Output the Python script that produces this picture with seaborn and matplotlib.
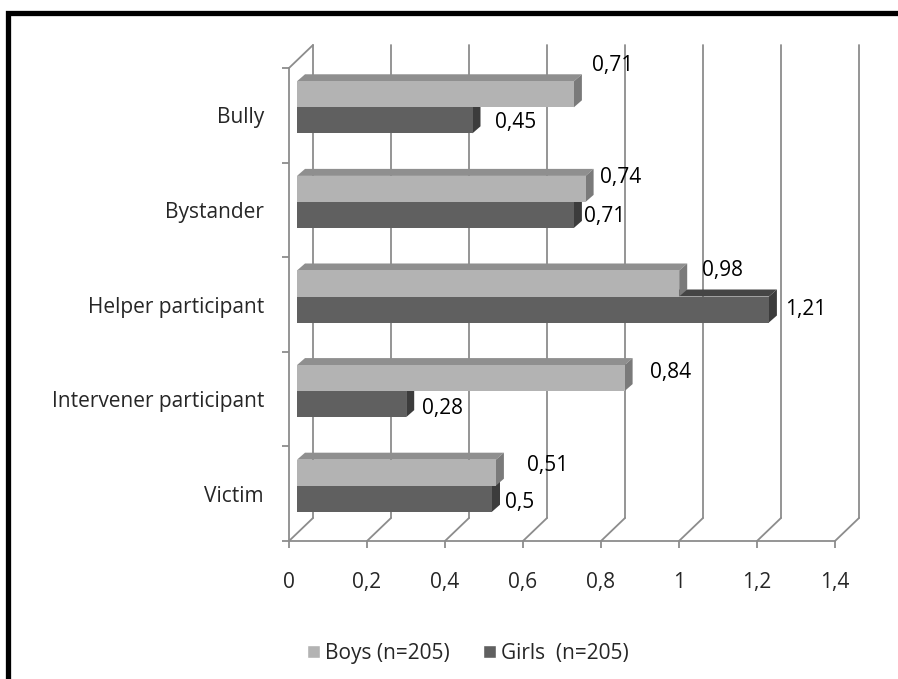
import matplotlib
matplotlib.use("Agg")
import matplotlib.pyplot as plt
from matplotlib.patches import Polygon, Rectangle
import numpy as np
import pandas as pd
import seaborn as sns

# Mean scores by participant role and sex
roles = ["Bully", "Bystander", "Helper participant", "Intervener participant", "Victim"]
boys = [0.71, 0.74, 0.98, 0.84, 0.51]
girls = [0.45, 0.71, 1.21, 0.28, 0.5]
series = ["Boys (n=205)", "Girls  (n=205)"]
x_ticks = [0, 0.2, 0.4, 0.6, 0.8, 1.0, 1.2, 1.4]

sns.set_theme(style="white")
plt.rcParams["font.family"] = ["Open Sans", "DejaVu Sans"]

BOYS_FRONT, BOYS_TOP, BOYS_SIDE = "#b3b3b3", "#8f8f8f", "#7a7a7a"
GIRLS_FRONT, GIRLS_TOP, GIRLS_SIDE = "#606060", "#454545", "#3c3c3c"
GRID = "#8c8c8c"
FS = 15

W, H = 898, 679
fig = plt.figure(figsize=(W / 100, H / 100), dpi=100)
ax_l, ax_b, ax_w, ax_h = 289, 138, 546, 473
ax = fig.add_axes([ax_l / W, ax_b / H, ax_w / W, ax_h / H])

df = pd.DataFrame({
    "role": roles * 2,
    "group": [series[0]] * len(roles) + [series[1]] * len(roles),
    "mean": boys + girls,
})
sns.barplot(data=df, y="role", x="mean", hue="group", orient="h",
            palette=[BOYS_FRONT, GIRLS_FRONT], saturation=1, width=0.55,
            errorbar=None, legend=False, ax=ax, linewidth=0)

ax.set_xlim(0, 1.4)
ax.set_ylim(len(roles) - 0.5, -0.5)

# pixel -> data conversion factors
px_x = 1.4 / ax_w
px_y = len(roles) / ax_h

# depth of the back wall and of the bars (pixels right / up)
WALL_DX, WALL_DY = 24 * px_x, 23 * px_y
BAR_SHIFT_X, BAR_SHIFT_Y = 8 * px_x, 8 * px_y
BAR_DX, BAR_DY = 8 * px_x, 7 * px_y

# back wall gridlines and floor diagonals
y_top, y_bot = -0.5, len(roles) - 0.5
for t in x_ticks:
    ax.plot([t + WALL_DX, t + WALL_DX], [y_bot - WALL_DY, y_top - WALL_DY],
            color=GRID, lw=1.3, clip_on=False, zorder=0.5)
    ax.plot([t, t + WALL_DX], [y_bot, y_bot - WALL_DY],
            color=GRID, lw=1.3, clip_on=False, zorder=0.5)
ax.plot([0, WALL_DX], [y_top, y_top - WALL_DY], color=GRID, lw=1.3,
        clip_on=False, zorder=0.5)

faces = [(BOYS_TOP, BOYS_SIDE), (GIRLS_TOP, GIRLS_SIDE)]
values = [boys, girls]
z_base = [2.6, 2.0]
# value-label placement (pixels right of the bar end / above the bar centre)
label_dx = [[18, 14, 23, 25, 31], [23, 10, 16, 16, 13]]
label_dy = [[29, 11, 13, 6, 7], [-2, -2, 0, -4, -4]]

for k, cont in enumerate(ax.containers):
    top_c, side_c = faces[k]
    for i, p in enumerate(cont.patches):
        p.set_x(p.get_x() + BAR_SHIFT_X)
        p.set_y(p.get_y() - BAR_SHIFT_Y)
        p.set_zorder(z_base[k] + 0.2)
        x0 = p.get_x()
        x1 = x0 + p.get_width()
        yt = p.get_y()
        yb = yt + p.get_height()
        top = Polygon([(x0, yt), (x1, yt), (x1 + BAR_DX, yt - BAR_DY),
                       (x0 + BAR_DX, yt - BAR_DY)], closed=True,
                      facecolor=top_c, edgecolor="none", zorder=z_base[k],
                      clip_on=False)
        side = Polygon([(x1, yt), (x1, yb), (x1 + BAR_DX, yb - BAR_DY),
                        (x1 + BAR_DX, yt - BAR_DY)], closed=True,
                       facecolor=side_c, edgecolor="none", zorder=z_base[k] + 0.1,
                       clip_on=False)
        ax.add_patch(top)
        ax.add_patch(side)
        v = values[k][i]
        ax.annotate(f"{v:g}".replace(".", ","), xy=(x1, (yt + yb) / 2),
                    xytext=(label_dx[k][i], label_dy[k][i]),
                    textcoords="offset pixels",
                    ha="left", va="center", fontsize=FS, color="black",
                    zorder=5, annotation_clip=False)

# axes styling
for s in ["top", "right"]:
    ax.spines[s].set_visible(False)
for s in ["left", "bottom"]:
    ax.spines[s].set_color(GRID)
    ax.spines[s].set_linewidth(1.3)

ax.set_xticks(x_ticks)
ax.set_xticklabels([f"{t:g}".replace(".", ",") for t in x_ticks], fontsize=FS)
ax.tick_params(axis="x", length=5, width=1.3, color=GRID, pad=17, bottom=True)
ax.set_yticks(range(len(roles)))
ax.set_yticklabels(roles, fontsize=FS)
ax.set_yticks(np.arange(-0.5, len(roles), 1), minor=True)
ax.tick_params(axis="y", which="major", length=0, pad=18)
ax.tick_params(axis="y", which="minor", length=5, width=1.3, color=GRID, left=True)
ax.set_xlabel("")
ax.set_ylabel("")
ax.set_facecolor("none")

handles = [Rectangle((0, 0), 1, 1, facecolor=BOYS_FRONT),
           Rectangle((0, 0), 1, 1, facecolor=GIRLS_FRONT)]
fig.legend(handles, series, loc="center", bbox_to_anchor=(468 / W, 1 - 653 / H),
           ncol=2, frameon=False, fontsize=FS, handlelength=0.6, handleheight=0.6,
           handletextpad=0.25, columnspacing=1.6)

# outer frame
fig.add_artist(Rectangle((7.5 / W, -0.2), 1.5, (H - 13.5) / H + 0.2,
                         transform=fig.transFigure, fill=False,
                         edgecolor="black", linewidth=3.8, clip_on=False))

fig.savefig("out.png", dpi=100)
